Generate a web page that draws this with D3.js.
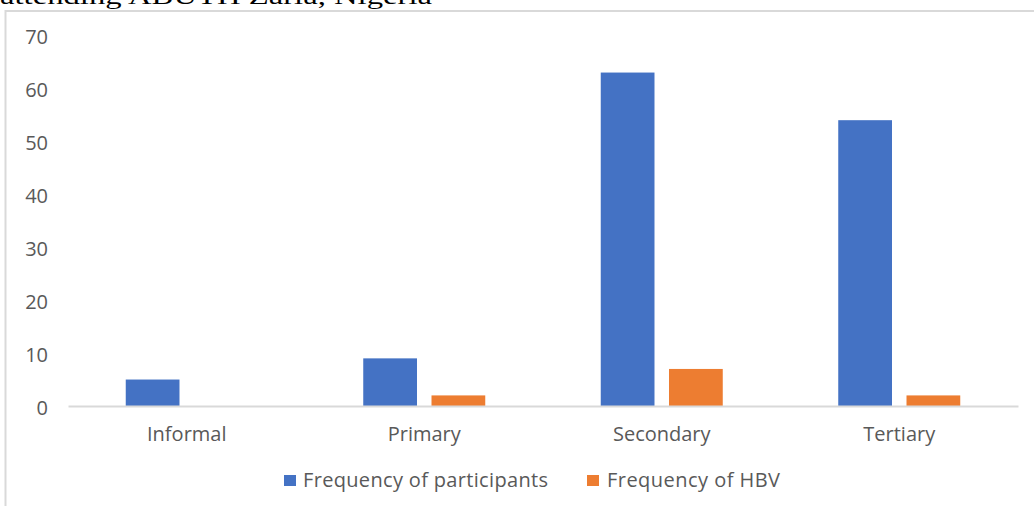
<!DOCTYPE html>
<html>
<head>
<meta charset="utf-8">
<script src="https://cdn.jsdelivr.net/npm/d3@7"></script>
<style>
  html, body { margin: 0; padding: 0; background: #fff; overflow: hidden; }
  svg { display: block; }
</style>
</head>
<body>
<svg id="chart" width="1034" height="506"></svg>
<script>
// Education level of participants and HBV frequency
const categories = ["Informal", "Primary", "Secondary", "Tertiary"];
const seriesNames = ["Frequency of participants", "Frequency of HBV"];
const participants = [5, 9, 63, 54];
const hbv = [0, 2, 7, 2];
const yTicks = [0, 10, 20, 30, 40, 50, 60, 70];
const seriesColors = ["#4472C4", "#ED7D31"];
const captionText = "attending ABUTH Zaria, Nigeria";

const values = [participants, hbv];
const svg = d3.select("#chart");
const W = 1034, H = 506;
const textColor = "#595959";
const font = "'Open Sans', sans-serif";

svg.append("rect").attr("width", W).attr("height", H).attr("fill", "#fff");

// Caption line from the surrounding document (clipped at top)
svg.append("text")
  .attr("x", 0).attr("y", 4)
  .attr("font-family", "'Liberation Serif', 'Times New Roman', serif")
  .attr("font-size", 24)
  .attr("fill", "#000")
  .attr("textLength", 432)
  .attr("lengthAdjust", "spacingAndGlyphs")
  .text(captionText);

// Chart frame
svg.append("rect")
  .attr("x", 5.5).attr("y", 11)
  .attr("width", W + 20).attr("height", H + 20)
  .attr("fill", "none")
  .attr("stroke", "#d9d9d9")
  .attr("stroke-width", 2);

const plot = { left: 68, right: 1018, top: 35.5, bottom: 406 };

const y = d3.scaleLinear().domain([0, 70]).range([plot.bottom, plot.top]);
const x0 = d3.scaleBand().domain(categories).range([plot.left, plot.right]).padding(0);
const x1 = d3.scaleBand().domain(seriesNames)
  .range([0, x0.bandwidth()])
  .paddingInner(0.2125)
  .paddingOuter(0.846);

// Y axis labels
const yAxis = d3.axisLeft(y).tickValues(yTicks).tickSize(0).tickPadding(0);
const gy = svg.append("g").attr("transform", `translate(48,0)`).call(yAxis);
gy.select(".domain").remove();
gy.selectAll("text")
  .attr("font-family", font)
  .attr("font-size", 20)
  .attr("fill", textColor)
  .attr("dy", "0.4em");

// Bars
const groups = svg.append("g").selectAll("g")
  .data(categories)
  .join("g")
  .attr("transform", d => `translate(${x0(d)},0)`);

groups.selectAll("rect")
  .data((c, i) => seriesNames.map((s, k) => ({ s, k, v: values[k][i] })))
  .join("rect")
  .attr("x", d => x1(d.s))
  .attr("width", x1.bandwidth())
  .attr("y", d => y(d.v))
  .attr("height", d => y(0) - y(d.v))
  .attr("fill", d => seriesColors[d.k]);

// Category axis
const xAxis = d3.axisBottom(x0).tickSize(0).tickPadding(0);
const gx = svg.append("g").attr("transform", `translate(0,${plot.bottom})`).call(xAxis);
gx.select(".domain").attr("stroke", "#d9d9d9").attr("stroke-width", 2);
gx.selectAll("text")
  .attr("font-family", font)
  .attr("font-size", 20)
  .attr("fill", textColor)
  .attr("y", 35)
  .attr("dy", 0);

// Legend
const legendItems = [
  { name: seriesNames[0], color: seriesColors[0], sx: 284, tx: 303, len: 245 },
  { name: seriesNames[1], color: seriesColors[1], sx: 587, tx: 607, len: 173 }
];
const lg = svg.append("g");
legendItems.forEach(it => {
  lg.append("rect")
    .attr("x", it.sx).attr("y", 475)
    .attr("width", 12).attr("height", 11)
    .attr("fill", it.color);
  lg.append("text")
    .attr("x", it.tx).attr("y", 487)
    .attr("font-family", font)
    .attr("font-size", 20)
    .attr("fill", textColor)
    .attr("textLength", it.len)
    .attr("lengthAdjust", "spacing")
    .text(it.name);
});
</script>
</body>
</html>
